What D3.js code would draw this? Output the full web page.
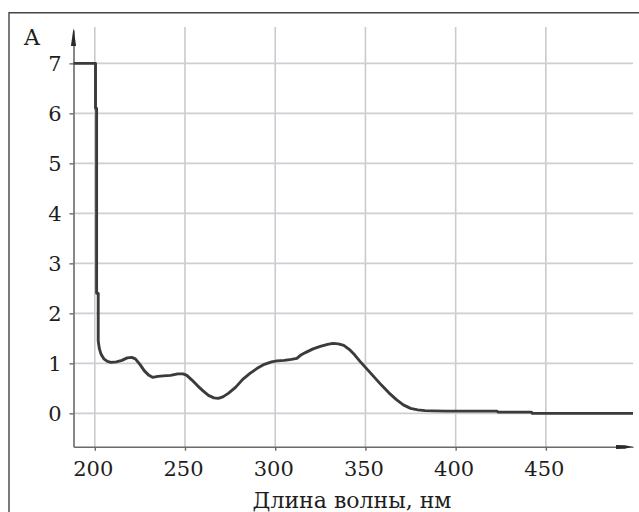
<!DOCTYPE html>
<html>
<head>
<meta charset="utf-8">
<script src="https://cdn.jsdelivr.net/npm/d3@7"></script>
<style>
	body { margin: 0; background: #fff; }
	svg text { font-family: 'DejaVu Serif', serif; fill: #1e1e1e; }
</style>
</head>
<body>
<div id="chart"></div>
<script>
// wavelength, nm
let wavelength	= [188.2, 200.4, 200.4, 201.0, 201.0, 201.9, 201.9, 202.5, 203.5, 205, 207, 209, 212, 215, 218, 220.5, 222.5, 225, 227.5, 230, 232, 235, 238, 242, 246, 249, 251, 254, 257, 260, 263, 266, 268.5, 271, 274, 278, 282, 286, 290, 294, 298, 301, 305, 309, 312, 314, 317, 321, 325, 329, 332, 335, 338, 341, 344, 347, 351, 355, 359, 363, 367, 371, 375, 379, 383, 388, 395, 410, 423, 423.5, 442, 442.5, 498.3];
// absorbance
let absorb		= [7, 7, 6.1, 6.1, 2.4, 2.4, 1.45, 1.3, 1.18, 1.09, 1.04, 1.02, 1.03, 1.06, 1.11, 1.12, 1.09, 0.98, 0.85, 0.76, 0.72, 0.74, 0.75, 0.76, 0.79, 0.79, 0.76, 0.66, 0.55, 0.45, 0.36, 0.31, 0.30, 0.33, 0.40, 0.52, 0.68, 0.80, 0.90, 0.98, 1.03, 1.05, 1.06, 1.08, 1.10, 1.16, 1.22, 1.29, 1.34, 1.38, 1.40, 1.39, 1.36, 1.28, 1.17, 1.04, 0.88, 0.72, 0.56, 0.41, 0.28, 0.17, 0.10, 0.07, 0.055, 0.05, 0.045, 0.045, 0.045, 0.025, 0.025, 0.0, 0.0];

let xTicks		= [200, 250, 300, 350, 400, 450];
let yTicks		= [0, 1, 2, 3, 4, 5, 6, 7];
let xDomain		= [188.2, 498.3];
let yDomain		= [-0.667, 7.667];
let xTitle		= 'Длина волны, нм';
let yTitle		= 'A';

let width	= 639;
let height	= 512;
let margin	= { top: 30, right: 6, bottom: 65.3, left: 73.5 };

let svg = d3.select('#chart').append('svg')
	.attr('width', width)
	.attr('height', height);

// outer frame (only top and left edges are inside the picture)
svg.append('path')
	.attr('d', 'M9,' + (height + 2) + 'V12.7H' + (width + 2))
	.attr('fill', 'none')
	.attr('stroke', '#444')
	.attr('stroke-width', 1.4);

let x = d3.scaleLinear().domain(xDomain).range([margin.left, width - margin.right]);
let y = d3.scaleLinear().domain(yDomain).range([height - margin.bottom, margin.top]);

// grid
svg.append('g').selectAll('line.vgrid').data(xTicks).enter().append('line')
	.attr('x1', d => x(d)).attr('x2', d => x(d))
	.attr('y1', y.range()[1] - 3).attr('y2', y.range()[0])
	.attr('stroke', '#c9cbd0')
	.attr('stroke-width', 1.6);

svg.append('g').selectAll('line.hgrid').data(yTicks).enter().append('line')
	.attr('x1', x.range()[0]).attr('x2', x.range()[1])
	.attr('y1', d => y(d)).attr('y2', d => y(d))
	.attr('stroke', '#cdcfd3')
	.attr('stroke-width', 1.6);

// axes
let xAxis = svg.append('g')
	.attr('transform', 'translate(0,' + y.range()[0] + ')')
	.call(d3.axisBottom(x).tickValues(xTicks).tickSize(4).tickSizeOuter(0).tickPadding(13));

let yAxis = svg.append('g')
	.attr('transform', 'translate(' + x.range()[0] + ',0)')
	.call(d3.axisLeft(y).tickValues(yTicks).tickSize(4).tickSizeOuter(0).tickPadding(8));

[xAxis, yAxis].forEach(a => {
	a.select('.domain').attr('stroke', '#6a6a6a').attr('stroke-width', 1.6);
	a.selectAll('.tick line').attr('stroke', '#6a6a6a').attr('stroke-width', 1.4);
	a.selectAll('.tick text')
		.style('font-size', '21px')
		.style('font-family', "'DejaVu Serif', serif")
		.attr('fill', '#1e1e1e');
});
xAxis.selectAll('.tick text').attr('dx', -2).attr('dy', '0.6em');
yAxis.selectAll('.tick text').attr('dy', '0.36em');

// axis end arrows
let ax = x.range()[0], ay = y.range()[1];
svg.append('path')
	.attr('d', 'M' + ax + ',' + (ay - 2) + 'L' + (ax + 1.3) + ',' + (ay + 7) + 'L' + (ax + 2.6) + ',' + (ay + 16) + 'L' + (ax - 2.6) + ',' + (ay + 16) + 'L' + (ax - 1.3) + ',' + (ay + 7) + 'Z')
	.attr('fill', '#2a2a2a');

let bx = x.range()[1], by = y.range()[0];
svg.append('path')
	.attr('d', 'M' + (bx - 1) + ',' + by + 'L' + (bx - 8) + ',' + (by + 2) + 'L' + (bx - 17) + ',' + (by + 2.2) + 'L' + (bx - 17) + ',' + (by - 1.8) + 'L' + (bx - 8) + ',' + (by - 1.5) + 'Z')
	.attr('fill', '#2a2a2a');

// spectrum
let points = wavelength.map((w, i) => [w, absorb[i]]);
let line = d3.line().x(d => x(d[0])).y(d => y(d[1])).curve(d3.curveLinear);

svg.append('path')
	.datum(points)
	.attr('d', line)
	.attr('fill', 'none')
	.attr('stroke', '#3b3b3b')
	.attr('stroke-width', 2.9)
	.attr('stroke-linejoin', 'round');

// titles
svg.append('text')
	.attr('x', 24)
	.attr('y', 45)
	.style('font-size', '22px')
	.text(yTitle);

svg.append('text')
	.attr('x', 352)
	.attr('y', 508)
	.attr('text-anchor', 'middle')
	.style('font-size', '22px')
	.text(xTitle);
</script>
</body>
</html>
